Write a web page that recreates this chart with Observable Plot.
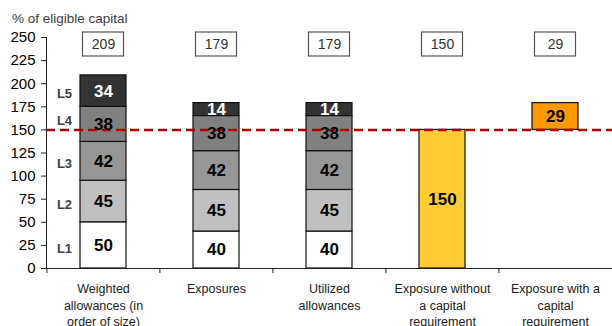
<!DOCTYPE html>
<html>
<head>
<meta charset="utf-8">
<script src="https://cdn.jsdelivr.net/npm/d3@7"></script>
<script src="https://cdn.jsdelivr.net/npm/@observablehq/plot@0.6"></script>
<style>
  html, body { margin: 0; padding: 0; background: #fff; }
  #title {
    font-family: "Liberation Sans", Arial, sans-serif;
    font-size: 13.5px;
    color: #404040;
    box-sizing: border-box;
    height: 26px;
    padding: 12px 0 0 12px;
    line-height: 14px;
    white-space: nowrap;
  }
</style>
</head>
<body>
<div id="title">% of eligible capital</div>
<div id="chart"></div>
<script>
// Categories along the x axis (line breaks as shown under each column)
const categories = [
  "Weighted\nallowances (in\norder of size)",
  "Exposures",
  "Utilized\nallowances",
  "Exposure without\na capital\nrequirement",
  "Exposure with a\ncapital\nrequirement"
];
const levels = ["L1", "L2", "L3", "L4", "L5"];

// Stacked columns, L1 at the bottom
const weighted = [50, 45, 42, 38, 34];
const exposures = [40, 45, 42, 38, 14];
const utilized = [40, 45, 42, 38, 14];

// Single columns
const withoutCapital = 150;
const withCapital = 29;

// Capital threshold line
const threshold = 150;

// Y axis ticks
const yTicks = [0, 25, 50, 75, 100, 125, 150, 175, 200, 225, 250];

const palette = {
  L1: "#ffffff",
  L2: "#c0c0c0",
  L3: "#969696",
  L4: "#808080",
  L5: "#333333",
  without: "#ffcc33",
  with: "#ff9900"
};

// Build the segments of each column
const segments = [];
[weighted, exposures, utilized].forEach((vals, i) => {
  let acc = 0;
  vals.forEach((v, j) => {
    segments.push({cat: categories[i], level: levels[j], y1: acc, y2: acc + v, value: v});
    acc += v;
  });
});
segments.push({cat: categories[3], level: "without", y1: 0, y2: withoutCapital, value: withoutCapital});
segments.push({cat: categories[4], level: "with", y1: withoutCapital, y2: withoutCapital + withCapital, value: withCapital});

// Totals shown in the boxes above each column
const totals = categories.map(c => ({
  cat: c,
  total: d3.sum(segments.filter(s => s.cat === c), s => s.value)
}));

const width = 612, height = 300;
const marginLeft = 46, marginRight = 0, marginTop = 11, marginBottom = 58;
const step = (width - marginLeft - marginRight) / categories.length;
const yMax = yTicks[yTicks.length - 1];
const mid = d => (d.y1 + d.y2) / 2;
const font = "'Liberation Sans', Arial, sans-serif";

// level names sit beside the first column; the one crossing the threshold is nudged above it
const levelLabels = segments.filter(d => d.cat === categories[0]);
const crossing = d => d.y1 < threshold && d.y2 > threshold;

const chart = Plot.plot({
  width, height, marginLeft, marginRight, marginTop, marginBottom,
  style: {fontFamily: font, fontSize: "12px", color: "#000", background: "#fff"},
  x: {domain: categories, paddingInner: 0.594, paddingOuter: 0.297, axis: null},
  y: {domain: [0, yMax], axis: null},
  color: {type: "identity"},
  marks: [
    // columns
    Plot.barY(segments, {
      x: "cat", y1: "y1", y2: "y2",
      fill: d => palette[d.level],
      stroke: "#111", strokeWidth: 1.2
    }),
    // threshold
    Plot.ruleY([threshold], {stroke: "#b00000", strokeWidth: 2.5, strokeDasharray: "9,5"}),
    // segment values
    Plot.text(segments, {
      x: "cat", y: mid, text: "value",
      fill: d => d.level === "L5" ? "#ffffff" : "#000000",
      fontWeight: "bold", fontSize: 17
    }),
    Plot.text(levelLabels.filter(d => !crossing(d)), {
      x: "cat", y: mid, text: "level", dx: -39, dy: 3,
      fontWeight: "bold", fontSize: 13, fill: "#404040"
    }),
    Plot.text(levelLabels.filter(crossing), {
      x: "cat", y: mid, text: "level", dx: -39, dy: -4,
      fontWeight: "bold", fontSize: 13, fill: "#404040"
    }),
    // total boxes
    Plot.barY(totals, {
      x: "cat", y1: yMax, y2: yMax,
      insetTop: -5, insetBottom: -19, insetLeft: 2.5, insetRight: 2.5,
      fill: "#fff", stroke: "#555", strokeWidth: 1.2
    }),
    Plot.text(totals, {x: "cat", y: yMax, dy: 7, text: "total", fontSize: 14, fill: "#333"}),
    // axes
    Plot.axisY({ticks: yTicks, tickSize: 5, tickPadding: 6, fontSize: 15, fill: "#000", stroke: "#222", label: null}),
    Plot.frame({anchor: "left", stroke: "#222"}),
    Plot.ruleY([0], {stroke: "#222"}),
    Plot.axisX({tickSize: 5, dx: -step / 2, tickFormat: () => "", stroke: "#222", label: null}),
    Plot.axisX({tickSize: 0, tickPadding: 13, fontSize: 12.5, lineHeight: 1.32, fill: "#222", label: null})
  ]
});

document.getElementById("chart").appendChild(chart);
</script>
</body>
</html>
